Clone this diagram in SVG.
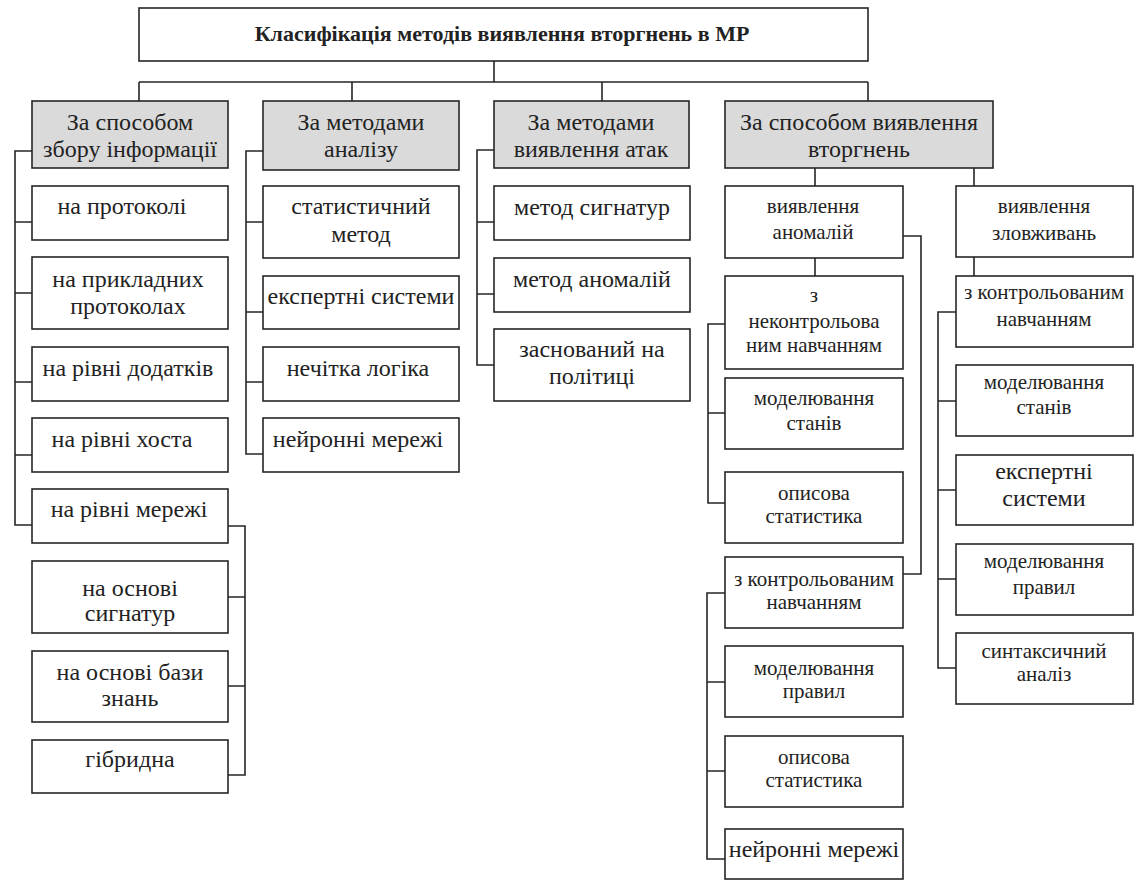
<svg xmlns="http://www.w3.org/2000/svg" width="1134" height="881" viewBox="0 0 1134 881">
<style>
.b{fill:#fff;stroke:#262626;stroke-width:1.6}
.h{fill:#dadada;stroke:#262626;stroke-width:1.6}
.c{fill:none;stroke:#262626;stroke-width:1.6}
svg text, text{font-family:'Liberation Serif',serif !important;fill:#222;text-anchor:middle}
.t{font-size:22px;font-weight:bold}
.n{font-size:24px}
.s{font-size:21px}
</style>
<rect width="1134" height="881" fill="#fff"/>
<g id="connectors">
<path class="c" d="M494 61V82M139 82H868M139 82V101M352 82V101M602 82V101M868 82V101"/>
<path class="c" d="M32 151H15V525H32M15 222H32M15 293H32M15 382H32M15 455H32"/>
<path class="c" d="M228 526H245V775H228M228 597H245M228 686H245"/>
<path class="c" d="M263 151H246V454H263M246 222H263M246 312H263M246 382H263"/>
<path class="c" d="M494 150H477V365H494M477 222H494M477 294H494"/>
<path class="c" d="M815 168V186M974 168V186M815 258V276M903 236H921V574H903"/>
<path class="c" d="M725 324H708V503H725M708 413H725"/>
<path class="c" d="M725 593H707V859H725M707 682H725M707 771H725"/>
<path class="c" d="M974 257V276M956 312H938V668H956M938 401H956M938 490H956M938 579H956"/>
</g>
<g id="title"><rect class="b" x="139" y="8" width="729" height="53"/><text class="t" style="font-family:'Liberation Serif',serif" x="502" y="41">Класифікація методів виявлення вторгнень в МР</text></g>
<g id="h1"><rect class="h" x="32" y="101" width="196" height="67"/><text class="n" style="font-family:'Liberation Serif',serif" x="130" y="130">За способом</text><text class="n" style="font-family:'Liberation Serif',serif" x="130" y="157">збору інформації</text></g>
<g id="h2"><rect class="h" x="263" y="101" width="196" height="69"/><text class="n" style="font-family:'Liberation Serif',serif" x="361" y="130">За методами</text><text class="n" style="font-family:'Liberation Serif',serif" x="361" y="157">аналізу</text></g>
<g id="h3"><rect class="h" x="494" y="101" width="195" height="67"/><text class="n" style="font-family:'Liberation Serif',serif" x="591" y="130">За методами</text><text class="n" style="font-family:'Liberation Serif',serif" x="591" y="157">виявлення атак</text></g>
<g id="h4"><rect class="h" x="725" y="101" width="268" height="67"/><text class="n" style="font-family:'Liberation Serif',serif" x="859" y="130">За способом виявлення</text><text class="n" style="font-family:'Liberation Serif',serif" x="859" y="157">вторгнень</text></g>

<g id="c1a"><rect class="b" x="32" y="186" width="196" height="54"/><text class="n" style="font-family:'Liberation Serif',serif" x="122" y="214">на протоколі</text></g>
<g id="c1b"><rect class="b" x="32" y="257" width="196" height="72"/><text class="n" style="font-family:'Liberation Serif',serif" x="128" y="287">на прикладних</text><text class="n" style="font-family:'Liberation Serif',serif" x="128" y="314">протоколах</text></g>
<g id="c1c"><rect class="b" x="32" y="347" width="196" height="54"/><text class="n" style="font-family:'Liberation Serif',serif" x="128" y="376">на рівні додатків</text></g>
<g id="c1d"><rect class="b" x="32" y="418" width="196" height="54"/><text class="n" style="font-family:'Liberation Serif',serif" x="122" y="447">на рівні хоста</text></g>
<g id="c1e"><rect class="b" x="32" y="489" width="196" height="54"/><text class="n" style="font-family:'Liberation Serif',serif" x="129" y="517">на рівні мережі</text></g>
<g id="c1f"><rect class="b" x="32" y="561" width="196" height="72"/><text class="n" style="font-family:'Liberation Serif',serif" x="130" y="596">на основі</text><text class="n" style="font-family:'Liberation Serif',serif" x="130" y="621">сигнатур</text></g>
<g id="c1g"><rect class="b" x="32" y="651" width="196" height="71"/><text class="n" style="font-family:'Liberation Serif',serif" x="130" y="680">на основі бази</text><text class="n" style="font-family:'Liberation Serif',serif" x="130" y="706">знань</text></g>
<g id="c1h"><rect class="b" x="32" y="740" width="196" height="53"/><text class="n" style="font-family:'Liberation Serif',serif" x="130" y="767">гібридна</text></g>

<g id="c2a"><rect class="b" x="263" y="186" width="196" height="72"/><text class="n" style="font-family:'Liberation Serif',serif" x="361" y="214">статистичний</text><text class="n" style="font-family:'Liberation Serif',serif" x="361" y="242">метод</text></g>
<g id="c2b"><rect class="b" x="263" y="276" width="196" height="53"/><text class="n" style="font-family:'Liberation Serif',serif" x="361" y="304">експертні системи</text></g>
<g id="c2c"><rect class="b" x="263" y="347" width="196" height="54"/><text class="n" style="font-family:'Liberation Serif',serif" x="358" y="376">нечітка логіка</text></g>
<g id="c2d"><rect class="b" x="263" y="418" width="196" height="54"/><text class="n" style="font-family:'Liberation Serif',serif" x="358" y="447">нейронні мережі</text></g>

<g id="c3a"><rect class="b" x="494" y="186" width="196" height="54"/><text class="n" style="font-family:'Liberation Serif',serif" x="592" y="215">метод сигнатур</text></g>
<g id="c3b"><rect class="b" x="494" y="258" width="196" height="54"/><text class="n" style="font-family:'Liberation Serif',serif" x="592" y="287">метод аномалій</text></g>
<g id="c3c"><rect class="b" x="494" y="329" width="196" height="72"/><text class="n" style="font-family:'Liberation Serif',serif" x="592" y="357">заснований на</text><text class="n" style="font-family:'Liberation Serif',serif" x="592" y="384">політиці</text></g>

<g id="a0"><rect class="b" x="725" y="186" width="178" height="72"/><text class="s" style="font-family:'Liberation Serif',serif" x="813" y="213">виявлення</text><text class="s" style="font-family:'Liberation Serif',serif" x="813" y="239">аномалій</text></g>
<g id="a1"><rect class="b" x="725" y="276" width="178" height="93"/><text class="s" style="font-family:'Liberation Serif',serif" x="814" y="302">з</text><text class="s" style="font-family:'Liberation Serif',serif" x="814" y="328">неконтрольова</text><text class="s" style="font-family:'Liberation Serif',serif" x="814" y="352">ним навчанням</text></g>
<g id="a2"><rect class="b" x="725" y="378" width="178" height="71"/><text class="s" style="font-family:'Liberation Serif',serif" x="814" y="405">моделювання</text><text class="s" style="font-family:'Liberation Serif',serif" x="814" y="430">станів</text></g>
<g id="a3"><rect class="b" x="725" y="472" width="178" height="71"/><text class="s" style="font-family:'Liberation Serif',serif" x="814" y="500">описова</text><text class="s" style="font-family:'Liberation Serif',serif" x="814" y="523">статистика</text></g>
<g id="a4"><rect class="b" x="725" y="557" width="178" height="71"/><text class="s" style="font-family:'Liberation Serif',serif" x="814" y="586">з контрольованим</text><text class="s" style="font-family:'Liberation Serif',serif" x="814" y="609">навчанням</text></g>
<g id="a5"><rect class="b" x="725" y="646" width="178" height="71"/><text class="s" style="font-family:'Liberation Serif',serif" x="814" y="675">моделювання</text><text class="s" style="font-family:'Liberation Serif',serif" x="814" y="698">правил</text></g>
<g id="a6"><rect class="b" x="725" y="736" width="178" height="71"/><text class="s" style="font-family:'Liberation Serif',serif" x="814" y="764">описова</text><text class="s" style="font-family:'Liberation Serif',serif" x="814" y="787">статистика</text></g>
<g id="a7"><rect class="b" x="725" y="829" width="178" height="50"/><text class="n" style="font-family:'Liberation Serif',serif" x="814" y="857">нейронні мережі</text></g>

<g id="m0"><rect class="b" x="956" y="186" width="177" height="71"/><text class="s" style="font-family:'Liberation Serif',serif" x="1044" y="213">виявлення</text><text class="s" style="font-family:'Liberation Serif',serif" x="1044" y="240">зловживань</text></g>
<g id="m1"><rect class="b" x="956" y="276" width="177" height="71"/><text class="s" style="font-family:'Liberation Serif',serif" x="1044" y="299">з контрольованим</text><text class="s" style="font-family:'Liberation Serif',serif" x="1044" y="326">навчанням</text></g>
<g id="m2"><rect class="b" x="956" y="365" width="177" height="71"/><text class="s" style="font-family:'Liberation Serif',serif" x="1044" y="389">моделювання</text><text class="s" style="font-family:'Liberation Serif',serif" x="1044" y="414">станів</text></g>
<g id="m3"><rect class="b" x="956" y="455" width="177" height="70"/><text class="n" style="font-family:'Liberation Serif',serif" x="1044" y="479">експертні</text><text class="n" style="font-family:'Liberation Serif',serif" x="1044" y="506">системи</text></g>
<g id="m4"><rect class="b" x="956" y="544" width="177" height="71"/><text class="s" style="font-family:'Liberation Serif',serif" x="1044" y="568">моделювання</text><text class="s" style="font-family:'Liberation Serif',serif" x="1044" y="594">правил</text></g>
<g id="m5"><rect class="b" x="956" y="633" width="177" height="71"/><text class="s" style="font-family:'Liberation Serif',serif" x="1044" y="658">синтаксичний</text><text class="s" style="font-family:'Liberation Serif',serif" x="1044" y="681">аналіз</text></g>
</svg>
